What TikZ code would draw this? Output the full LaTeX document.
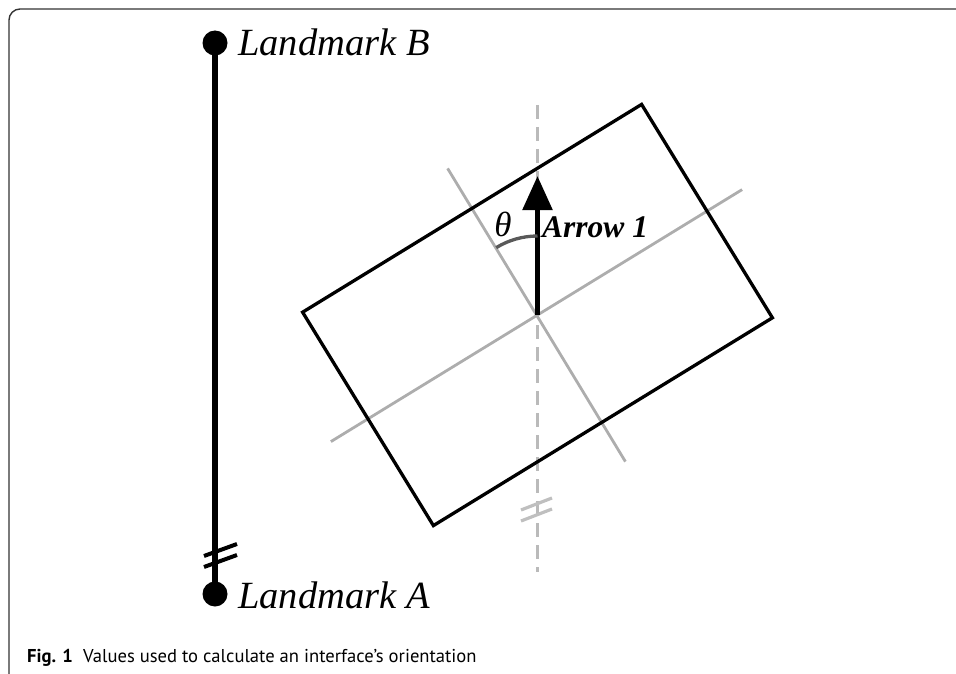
\documentclass[tikz,border=0pt]{standalone}
\usepackage{fontspec}
\setmainfont{Liberation Serif}
\newfontfamily\capfont{PT Sans}
\usetikzlibrary{arrows.meta}
\begin{document}
\begin{tikzpicture}[x=1pt,y=-1pt,
  frame/.style={line width=1.4pt, draw=black!80, rounded corners=11pt},
  bar/.style={line width=6.5pt, black},
  dot/.style={circle, fill=black, inner sep=0pt, minimum size=25pt},
  lmlabel/.style={anchor=base west, inner sep=0pt, font=\fontsize{38.5}{40}\selectfont\itshape},
  brk/.style={line width=4pt, black},
  gbrk/.style={line width=3.2pt, black!25},
  rectline/.style={line width=3.3pt, black, line join=miter},
  axisline/.style={line width=2.8pt, black!32},
  dashaxis/.style={line width=2.8pt, black!27, dash pattern=on 14pt off 8pt},
  bigarrow/.style={line width=5.5pt, -{Triangle[length=34pt,width=29pt]}},
  anglearc/.style={line width=3.3pt, black!65},
  ]
\useasboundingbox (0,0) rectangle (956,674);
% frame
\draw[frame] (9,674) -- (9,9) -- (956,9);
% landmarks
\node[dot] (dotB) at (215,43) {};
\node[dot] (dotA) at (215,594) {};
\draw[bar] (dotB.center) -- (dotA.center);
\node[lmlabel] (labB) at (238,56) {Landmark B};
\node[lmlabel] (labA) at (238,608) {Landmark A};
\coordinate (b1s) at (204,556); \coordinate (b1e) at (237,544);
\coordinate (b2s) at (204,567); \coordinate (b2e) at (237,555);
\draw[brk] (b1s) -- (b1e);
\draw[brk] (b2s) -- (b2e);
% rotated interface
\coordinate (C) at (537.5,315);
\coordinate (rT) at (641.6,104.4);
\coordinate (rR) at (772.4,317.8);
\coordinate (rB) at (433.4,525.6);
\coordinate (rL) at (302.6,312.2);
\coordinate (dTop) at (537.5,105);
\coordinate (dBot) at (537.5,572);
\draw[dashaxis] (dTop) -- (dBot);
\coordinate (g1s) at (521,510); \coordinate (g1e) at (552,498);
\coordinate (g2s) at (521,521); \coordinate (g2e) at (552,509);
\draw[gbrk] (g1s) -- (g1e);
\draw[gbrk] (g2s) -- (g2e);
\coordinate (la1) at (330.9,441.6);
\coordinate (la2) at (742.1,189.6);
\coordinate (sa1) at (447.6,168.4);
\coordinate (sa2) at (625.4,461.6);
\draw[axisline] (la1) -- (la2);
\draw[axisline] (sa1) -- (sa2);
\draw[rectline] (rT) -- (rR) -- (rB) -- (rL) -- cycle;
\coordinate (tip) at (537.5,176);
\draw[bigarrow] (C) -- (tip);
\draw[anglearc] (C) ++(0,-79) arc[start angle=-90, end angle=-121.5, radius=79];
\node[font=\fontsize{35}{37}\selectfont\itshape, inner sep=0pt] (theta) at (503,224) {θ};
\node[anchor=base west, inner sep=0pt, font=\fontsize{31.5}{33}\selectfont\bfseries\itshape] (arrowlab) at (542,237) {Arrow 1};
% caption
\node[anchor=base west, inner sep=0pt, font=\capfont\fontsize{18.6}{22}\selectfont] (caption) at (27,662) {\textbf{Fig. 1}\hspace{0.55em}Values used to calculate an interface’s orientation};
\end{tikzpicture}
\end{document}
